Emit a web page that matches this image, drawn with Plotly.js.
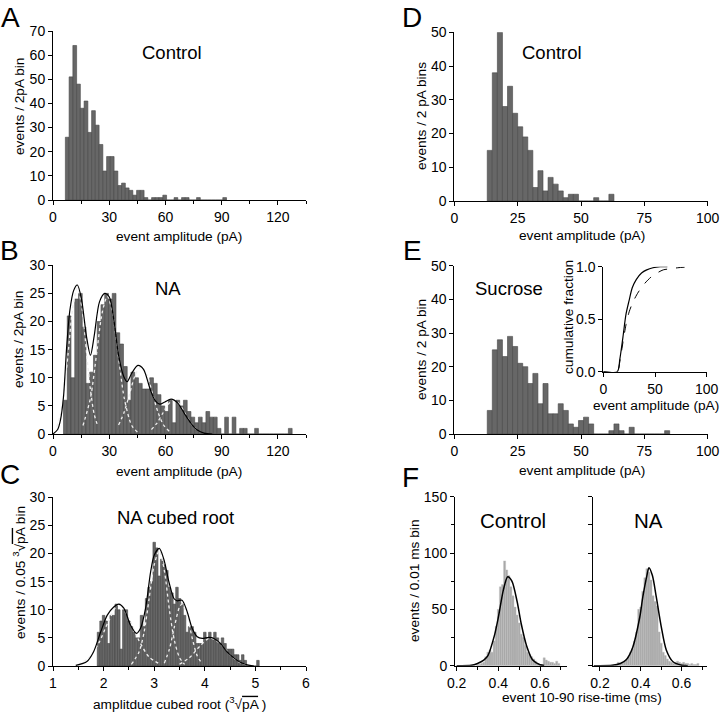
<!DOCTYPE html>
<html>
<head>
<meta charset="utf-8">
<script src="https://cdn.plot.ly/plotly-3.0.1.min.js"></script>
<style>
  body { margin: 0; background: #fff; }
  #fig { width: 720px; height: 712px; }
</style>
</head>
<body>
<div id="fig"></div>
<script>
// ---- data ----

// A: control amplitudes, 2 pA bins
var binA0 = 6.6, binW = 2;
var countsA = [26,51,64,48,38,41,28,37,31,23,12,18,18,12,6,7,5,4,2,4,4,1,0,1,1,1,2,0,0,1,0,1,1,0,0,1,0,0,0,0,0,0,1];

// B: NA amplitudes, 2 pA bins
var binB0 = 5.6;
var countsB = [6,21,10,24,25,19,9,11,14,20,23,25,24,25,18,16,12,6,11,10,9,8,8,10,9,7,5,4,6,2,6,5,6,4,3,2,3,2,4,3,3,1,0,3,0,3,0,1,1,0,0,1,0,0,0,0,0,0,0,0,1];

// B fit: sum of gaussians and single components
var fitBx = [0,2.5,4,5.6,7.3,9,11,13,15.2,17.8,20,22,24.8,27.6,30,32.6,35,37.8,39.6,42,45.3,48.3,51.8,54.4,57,59.7,63,66.6,70,73.6,77,80.6,85];
var fitBy = [0,0.8,2.5,6.6,15.5,22,25.5,26.5,24,17.5,14,17.5,23.5,25,24.4,20,14,10.2,9.3,10.8,12.2,11.5,8,6,5.3,5.7,6.2,5.5,3.7,1.9,0.7,0.15,0];
var compB = [
  {x: [2,4,6,8,10.5,13,15.5,18,20,22,24], y: [1.3,3.5,7.8,14.1,22.3,26,22.3,14.1,7.8,3.5,1.3]},
  {x: [16,20,23.5,26.25,29,31.75,34.5,38,42,45], y: [1.5,6.4,14.9,21.6,24.5,21.6,14.9,6.4,1.5,0.36]},
  {x: [35,38,41,44,47,50,53,56,59,62], y: [1.6,3.9,7.3,10.6,12,10.6,7.3,3.9,1.6,0.5]},
  {x: [52.5,55.5,58.5,61.5,64.5,67.5,70.5,73.5,76.5], y: [0.8,1.95,3.64,5.3,6,5.3,3.64,1.95,0.8]}
];

// C: NA cubed root, 0.05 bins
var binC0 = 1.875, binWC = 0.05;
var countsC = [6,8,9,8,4,9,9,11,10,3,10,10,8,7,6,5,5,9,7,12,14,15,22,21,16,19,18,17,14,13,11,14,12,11,9,6,7,7,6,4,4,4,6,5,6,5,6,5,4,5,4,3,3,3,2,2,1,2,1,0,0,0,0,1];
var fitCx = [1.45,1.67,1.8,1.94,2.07,2.2,2.3,2.4,2.53,2.65,2.73,2.83,2.93,3.0,3.1,3.19,3.29,3.39,3.45,3.55,3.65,3.75,3.85,3.95,4.08,4.18,4.31,4.44,4.58,4.7,4.84,4.97];
var fitCy = [0.1,0.8,2.5,6,9,10.5,11,10.3,7.3,5.8,6.7,10.3,16.8,19.7,20.9,19,15,12,11.6,11.7,9.7,6.7,5.2,4.9,5.1,4.9,4,2.5,1.4,0.65,0.2,0];
var compC = [
  {x: [1.5,1.7,1.9,2.1,2.3,2.5,2.7,2.9,3.1], y: [0.3,1.4,4,8,11,8.5,4.5,1.6,0.4]},
  {x: [2.55,2.7,2.8,2.9,3.0,3.1,3.2,3.3,3.4,3.5,3.6], y: [0.3,2.5,6,12,18,20.5,17,10,4.5,1.5,0.3]},
  {x: [3.2,3.3,3.4,3.5,3.55,3.65,3.75,3.85,3.95], y: [0.5,3,7,10.5,11,9,5,1.8,0.4]},
  {x: [3.5,3.7,3.9,4.1,4.3,4.5,4.7,4.9], y: [0.3,1.5,3.5,5,4,2,0.6,0.1]}
];

// D: control, 2 pA bins
var binD0 = 13;
var countsD = [15,38,50,28,34,26,22,19,15,4,9,3,7,5,3,1,2,2,0,0,0,1,0,0,2];

// E: sucrose, 2 pA bins
var countsE = [7,25,28,23,29,26,21,20,15,18,9,15,6,6,9,7,3,2,4,5,3,0,0,0,1,3,1,0,2,0,0,0,0,0,0,1];

// E inset: cumulative fractions
var cumCtlX = [0,13.5,16,19,22,25,28,32,37,42,48,55,62];
var cumCtlY = [0,0,0.12,0.33,0.55,0.68,0.8,0.88,0.94,0.97,0.99,1.0,1.0];
var cumSucX = [0,13.5,16,19,22,25,29,34,40,46,52,58,65,72,85];
var cumSucY = [0,0,0.1,0.28,0.45,0.57,0.67,0.76,0.84,0.9,0.94,0.97,0.98,0.99,1.0];

// F: rise times, 0.01 ms bins
var riseCtl0 = 0.295, riseNA0 = 0.275, binWF = 0.01;
var riseCtl = [1,1,2,3,8,12,14,12,22,35,50,70,72,93,85,80,70,62,52,45,38,28,25,18,12,10,8,6,4,2,1,1,7,5,4,3,3,2,4,2];
var riseNA = [1,3,2,3,4,5,8,12,15,22,30,50,52,66,78,86,83,76,62,57,53,30,20,12,9,6,4,3,2,3,4,3,2,3,2,2,1,2,1,1,2];
var fitFcX = [0.2,0.27,0.3,0.33,0.35,0.38,0.4,0.425,0.445,0.465,0.49,0.51,0.535,0.565,0.6,0.62];
var fitFcY = [0,0.3,2,5,9,26,43,68,79,75,57,37,18,5,0.8,0.2];
var fitFnX = [0.17,0.26,0.3,0.33,0.36,0.395,0.41,0.43,0.44,0.457,0.476,0.5,0.525,0.558,0.6,0.63];
var fitFnY = [0,0.3,2,5.6,16,43,61,80,87,80,61,35,14,3.5,0.4,0];

// ---- helpers ----
var W = 720, H = 712;
function px(v) { return v / W; }
function py(v) { return 1 - v / H; }
function centers(start, w, n) {
  var out = [];
  for (var i = 0; i < n; i++) out.push(start + w * (i + 0.5));
  return out;
}

var font = 'Arial, "Liberation Sans", sans-serif';
var darkBar = {color: '#676767', line: {color: '#474747', width: 0.6}};
var lightBar = {color: '#a9a9a9', line: {color: '#bdbdbd', width: 0.4}};

function bars(x, y, w, xa, ya, marker) {
  return {type: 'bar', x: x, y: y, width: w, marker: marker, xaxis: xa, yaxis: ya, hoverinfo: 'skip'};
}
function curve(x, y, xa, ya, line) {
  return {type: 'scatter', mode: 'lines', x: x, y: y, xaxis: xa, yaxis: ya,
          line: Object.assign({shape: 'spline', smoothing: 0.8}, line), hoverinfo: 'skip'};
}

var traces = [
  bars(centers(binA0, binW, countsA.length), countsA, binW, 'x', 'y', darkBar),
  bars(centers(binB0, binW, countsB.length), countsB, binW, 'x2', 'y2', darkBar),
  bars(centers(binC0, binWC, countsC.length), countsC, binWC, 'x3', 'y3', darkBar),
  bars(centers(binD0, binW, countsD.length), countsD, binW, 'x4', 'y4', darkBar),
  bars(centers(binD0, binW, countsE.length), countsE, binW, 'x5', 'y5', darkBar),
  bars(centers(riseCtl0, binWF, riseCtl.length), riseCtl, binWF, 'x7', 'y7', lightBar),
  bars(centers(riseNA0, binWF, riseNA.length), riseNA, binWF, 'x8', 'y8', lightBar)
];
compB.forEach(function (c) {
  traces.push(curve(c.x, c.y, 'x2', 'y2', {color: '#eeeeee', width: 1.3, dash: 'dot'}));
});
traces.push(curve(fitBx, fitBy, 'x2', 'y2', {color: 'black', width: 1.2}));
compC.forEach(function (c) {
  traces.push(curve(c.x, c.y, 'x3', 'y3', {color: '#eeeeee', width: 1.3, dash: 'dot'}));
});
traces.push(curve(fitCx, fitCy, 'x3', 'y3', {color: 'black', width: 1.2}));
traces.push(curve(cumSucX, cumSucY, 'x6', 'y6', {color: 'black', width: 1, dash: 'dash'}));
traces.push(curve(cumCtlX, cumCtlY, 'x6', 'y6', {color: 'black', width: 1.2}));
traces.push(curve(fitFcX, fitFcY, 'x7', 'y7', {color: 'black', width: 1.5}));
traces.push(curve(fitFnX, fitFnY, 'x8', 'y8', {color: 'black', width: 1.5}));

function axis(x0, x1, range, anchor, extra) {
  return Object.assign({
    domain: [x0, x1], range: range, anchor: anchor,
    showline: true, linecolor: 'black', linewidth: 1,
    ticks: 'outside', ticklen: 4, tickwidth: 1, tickcolor: 'black',
    showgrid: false, zeroline: false, fixedrange: true,
    tickfont: {family: font, size: 14, color: 'black'}
  }, extra || {});
}
function minor(d) {
  return {dtick: d, ticks: 'outside', ticklen: 3, tickcolor: 'black', showgrid: false};
}

var layout = {
  width: W, height: H,
  margin: {l: 0, r: 0, t: 0, b: 0},
  paper_bgcolor: 'white', plot_bgcolor: 'rgba(0,0,0,0)',
  showlegend: false, hovermode: false, barmode: 'overlay',
  font: {family: font, color: 'black'},

  xaxis:  axis(px(53), px(306), [0, 135], 'y',  {tick0: 0, dtick: 30, minor: minor(15)}),
  yaxis:  axis(py(200), py(31), [0, 70], 'x',   {dtick: 10}),
  xaxis2: axis(px(53), px(306), [0, 135], 'y2', {tick0: 0, dtick: 30, minor: minor(15)}),
  yaxis2: axis(py(434), py(265.3), [0, 30], 'x2', {dtick: 5}),
  xaxis3: axis(px(53), px(306), [1, 6], 'y3',  {tick0: 1, dtick: 1, minor: minor(0.5)}),
  yaxis3: axis(py(666), py(497.3), [0, 30], 'x3', {dtick: 5}),

  xaxis4: axis(px(454.3), px(707.7), [0, 100], 'y4', {dtick: 25}),
  yaxis4: axis(py(201), py(32.3), [0, 50], 'x4', {dtick: 10}),
  xaxis5: axis(px(454.3), px(707.7), [0, 100], 'y5', {dtick: 25}),
  yaxis5: axis(py(434), py(265.7), [0, 50], 'x5', {dtick: 10}),
  xaxis6: axis(px(603.3), px(706.7), [0, 100], 'y6', {dtick: 50}),
  yaxis6: axis(py(371.7), py(266.7), [0, 1], 'x6', {dtick: 0.5, tickformat: '.1f'}),

  xaxis7: axis(px(455), px(566.7), [0.192, 0.728], 'y7', {tick0: 0.2, dtick: 0.2, minor: minor(0.1)}),
  yaxis7: axis(py(665.7), py(496.7), [0, 150], 'x7', {dtick: 50, minor: minor(25)}),
  xaxis8: axis(px(593), px(706.7), [0.166, 0.723], 'y8', {tick0: 0.2, dtick: 0.2, minor: minor(0.1)}),
  yaxis8: axis(py(665.7), py(496.7), [0, 150], 'x8', {dtick: 25, showticklabels: false}),
  annotations: []
};

function label(text, x, y, size, angle, yanchor) {
  layout.annotations.push({
    xref: 'paper', yref: 'paper', x: px(x), y: py(y),
    xanchor: 'center', yanchor: yanchor || 'middle', showarrow: false,
    text: text, textangle: angle || 0,
    font: {family: font, size: size, color: 'black'}
  });
}

var root = '<sup>3</sup>√<span style="text-decoration:overline">pA</span>';

// panel letters
label('A', 10, 0, 28, 0, 'top');
label('B', 9, 250, 28);
label('C', 10, 474, 28);
label('D', 412, 0, 28, 0, 'top');
label('E', 412, 250, 28);
label('F', 410, 477, 28);

// panel titles
label('Control', 172, 53, 18.5);
label('NA', 168, 288, 18.5);
label('NA cubed root', 175, 517, 18.5);
label('Control', 552, 53, 18.5);
label('Sucrose', 509, 288, 18.5);
label('Control', 513, 520, 20.5);
label('NA', 648, 520, 20.5);

// axis titles
label('event amplitude (pA)', 179, 237, 13.7);
label('event amplitude (pA)', 179, 472, 13.7);
label('amplitdue cubed root (' + root + ' )', 179, 703, 13.7);
label('events / 2pA bin', 19, 107, 13.7, -90);
label('events / 2pA bin', 19, 340, 13.7, -90);
label('events / 0.05 ' + root + ' bin', 19, 573, 13.7, -90);

label('event amplitude (pA)', 582, 235, 13.7);
label('event amplitude (pA)', 582, 470, 13.7);
label('events / 2 pA bins', 421, 116, 13.7, -90);
label('events / 2 pA bin', 421, 350, 13.7, -90);
label('cumulative fraction', 568, 317, 13.7, -90);
label('event amplitude (pA)', 656, 405, 13.7);
label('events / 0.01 ms bin', 414, 580, 13.7, -90);
label('event 10-90 rise-time (ms)', 582, 697, 13.7);

Plotly.newPlot('fig', traces, layout, {staticPlot: true, displayModeBar: false});
</script>
</body>
</html>
